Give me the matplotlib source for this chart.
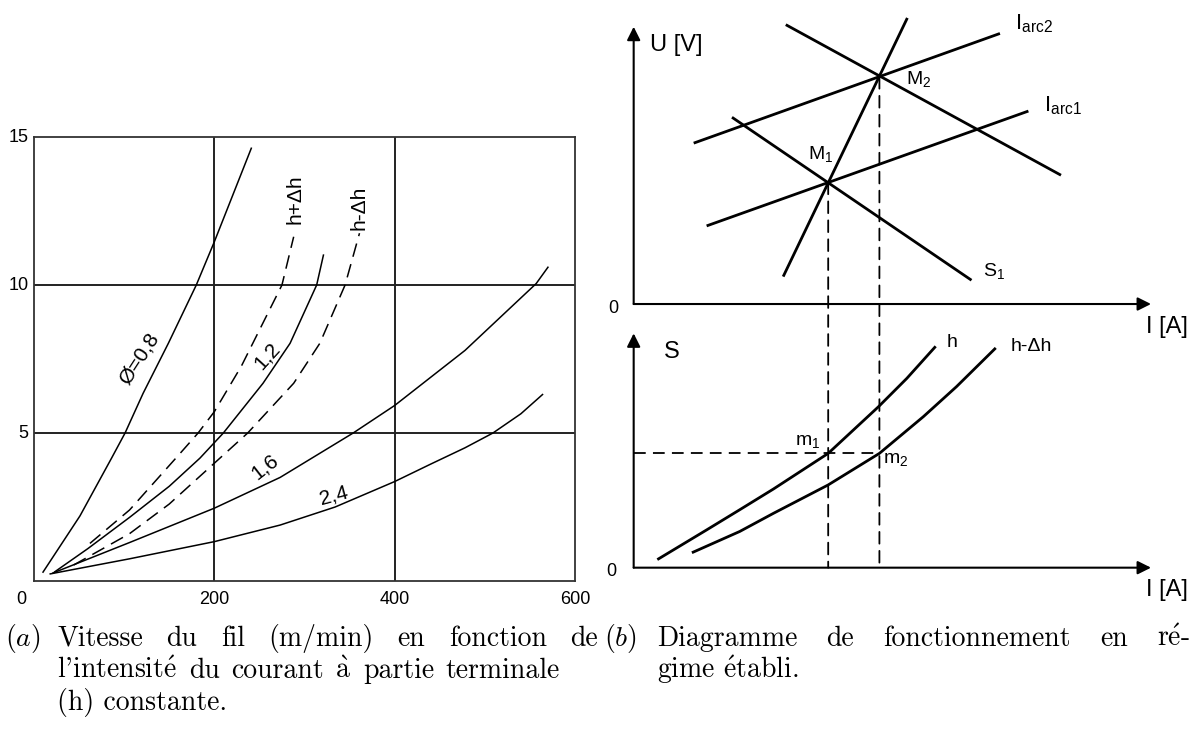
import numpy as np
import matplotlib.pyplot as plt
from matplotlib.patches import ConnectionPatch

plt.rcParams['font.family'] = ['Liberation Sans', 'DejaVu Sans']

# (a) wire speed (m/min) vs current (A)
i_08 = [10, 51, 86, 101, 121, 149, 180, 200, 241]
v_08 = [0.3, 2.2, 4.15, 5.0, 6.34, 8.03, 10.0, 11.46, 14.62]
i_12 = [23, 60, 106, 150, 184, 210, 254, 284, 313.5, 321]
v_12 = [0.31, 1.1, 2.15, 3.2, 4.15, 5.0, 6.68, 8.03, 10.0, 11.01]
i_hp = [62, 106, 162, 182, 200, 230, 275, 288]
v_hp = [1.27, 2.4, 4.31, 5.0, 5.72, 7.26, 10.0, 11.63]
i_hm = [44, 106, 150, 200, 237, 288, 317, 345, 361]
v_hm = [0.54, 1.6, 2.6, 3.98, 5.0, 6.68, 8.03, 10.0, 11.75]
i_16 = [21, 106, 200, 273, 354, 400, 478, 557, 570]
v_16 = [0.27, 1.3, 2.46, 3.5, 5.0, 5.93, 7.79, 10.05, 10.6]
i_24 = [18, 106, 200, 273, 334, 400, 440, 478, 509, 540, 564]
v_24 = [0.24, 0.75, 1.33, 1.89, 2.5, 3.36, 3.95, 4.5, 5.0, 5.65, 6.3]

x_ticks = [0, 200, 400, 600]
y_ticks = [5, 10, 15]

# (b) operating diagram, arbitrary units
iarc2_i, iarc2_u = [1.16, 7.08], [3.11, 5.23]
iarc1_i, iarc1_u = [1.41, 7.63], [1.51, 3.73]
s2_i, s2_u = [2.94, 8.26], [5.40, 2.49]
s1_i, s1_u = [1.90, 6.53], [3.61, 0.46]
src_i, src_u = [2.89, 5.29], [0.53, 5.53]
M1 = (3.76, 2.35)
M2 = (4.75, 4.39)
h_i = [0.48, 1.41, 2.05, 2.70, 3.76, 4.73, 5.28, 5.82]
h_s = [0.17, 0.73, 1.12, 1.52, 2.21, 3.11, 3.66, 4.26]
hm_i = [1.15, 2.05, 2.70, 3.76, 4.75, 5.60, 6.24, 6.98]
hm_s = [0.30, 0.70, 1.05, 1.60, 2.21, 2.92, 3.50, 4.23]
s_level = 2.21

fig = plt.figure(figsize=(11.97, 7.31), dpi=100)

# ---------- (a) ----------
ax = fig.add_axes([34/1197, 1 - 581/731, 541/1197, 444/731])
ax.set_xlim(0, 600)
ax.set_ylim(0, 15)
ax.set_xticks([200, 400])
ax.set_yticks([5, 10])
ax.tick_params(length=0, labelbottom=False, labelleft=False)
ax.grid(True, color='#222222', lw=1.4)
for s in ax.spines.values():
    s.set_linewidth(1.3)
    s.set_color('#333333')

for xs, ys in [(i_08, v_08), (i_12, v_12), (i_16, v_16), (i_24, v_24)]:
    ax.plot(xs, ys, color='k', lw=1.1)
for xs, ys in [(i_hp, v_hp), (i_hm, v_hm)]:
    ax.plot(xs, ys, color='k', lw=1.1, dashes=(9, 5))

for v in x_ticks:
    dx = -9 if v == 0 else 0
    ax.annotate(str(v), xy=(v, 0), xytext=(dx, -13), textcoords='offset points',
                ha='center', va='center', fontsize=13)
for v in y_ticks:
    ax.annotate(str(v), xy=(0, v), xytext=(-4, 0), textcoords='offset points',
                ha='right', va='center', fontsize=13)

lab = dict(ha='center', va='center', rotation_mode='anchor', fontsize=15)
ax.text(117, 7.5, 'Ø=0,8', rotation=57, **lab)
ax.text(259, 7.6, '1,2', rotation=48, **lab)
ax.text(256, 3.86, '1,6', rotation=38, **lab)
ax.text(333, 2.9, '2,4', rotation=15, **lab)
ax.text(290, 12.9, 'h+Δh', rotation=90, **lab)
ax.text(360, 12.6, 'h-Δh', rotation=90, **lab)

# ---------- (b) upper: U(I) ----------
up = fig.add_axes([600/1197, 1 - 320/731, 597/1197, 320/731])
up.set_xlim(-0.651, 10.889)
up.set_ylim(-0.309, 5.877)
up.axis('off')
arr = dict(arrowstyle='-|>', color='k', lw=1.5, mutation_scale=20, shrinkA=0, shrinkB=0)
up.annotate('', xy=(10, 0), xytext=(0, 0), arrowprops=arr)
up.annotate('', xy=(0, 5.36), xytext=(0, 0), arrowprops=arr)
for xs, ys in [(iarc2_i, iarc2_u), (iarc1_i, iarc1_u), (s2_i, s2_u), (s1_i, s1_u), (src_i, src_u)]:
    up.plot(xs, ys, color='k', lw=2.0, solid_capstyle='butt')

up.text(0.315, 5.01, 'U [V]', ha='left', va='center', fontsize=17)
up.text(-0.40, -0.08, '0', ha='center', va='center', fontsize=13)
up.text(10.31, -0.44, 'I [A]', ha='center', va='center', fontsize=17)
up.text(7.37, 5.41, 'I$_\\mathregular{arc2}$', ha='left', va='center', fontsize=16)
up.text(7.94, 3.83, 'I$_\\mathregular{arc1}$', ha='left', va='center', fontsize=16)
up.text(5.27, 4.33, 'M$_\\mathregular{2}$', ha='left', va='center', fontsize=14)
up.text(3.37, 2.88, 'M$_\\mathregular{1}$', ha='left', va='center', fontsize=14)
up.text(6.75, 0.62, 'S$_\\mathregular{1}$', ha='left', va='center', fontsize=14)

# ---------- (b) lower: S(I) ----------
lo = fig.add_axes([600/1197, 1 - 600/731, 597/1197, 275/731])
lo.set_xlim(-0.651, 10.889)
lo.set_ylim(-0.625, 4.692)
lo.axis('off')
lo.annotate('', xy=(10, 0), xytext=(0, 0), arrowprops=arr)
lo.annotate('', xy=(0, 4.53), xytext=(0, 0), arrowprops=arr)
lo.plot(h_i, h_s, color='k', lw=2.0)
lo.plot(hm_i, hm_s, color='k', lw=2.0)
lo.plot([0, M2[0]], [s_level, s_level], color='k', lw=1.3, dashes=(6.5, 4))

for m in (M1, M2):
    con = ConnectionPatch(xyA=m, coordsA=up.transData, xyB=(m[0], 0), coordsB=lo.transData,
                          color='k', lw=1.3, linestyle=(0, (6.5, 4)))
    fig.add_artist(con)

lo.text(0.74, 4.17, 'S', ha='center', va='center', fontsize=17)
lo.text(-0.43, -0.08, '0', ha='center', va='center', fontsize=13)
lo.text(10.31, -0.43, 'I [A]', ha='center', va='center', fontsize=17)
lo.text(6.04, 4.36, 'h', ha='left', va='center', fontsize=14)
lo.text(7.28, 4.27, 'h-Δh', ha='left', va='center', fontsize=14)
lo.text(3.12, 2.42, 'm$_\\mathregular{1}$', ha='left', va='center', fontsize=14)
lo.text(4.81, 2.08, 'm$_\\mathregular{2}$', ha='left', va='center', fontsize=14)

# ---------- captions (justified like the LaTeX source) ----------
E = r'$\mathrm{\acute{e}}$'
A = r'$\mathrm{\grave{a}}$'
cap = dict(fontsize=20, family='cmr10', math_fontfamily='cm', va='baseline', ha='left')
renderer = fig.canvas.get_renderer()


def caption_line(text, x0, y, x1=None):
    words = text.split(' ')
    if x1 is None:
        fig.text(x0 / 1197, 1 - y / 731, text, **cap)
        return
    texts = [fig.text(0, 1 - y / 731, w, **cap) for w in words]
    widths = [t.get_window_extent(renderer).width for t in texts]
    gap = (x1 - x0 - sum(widths)) / (len(words) - 1)
    x = x0
    for t, w in zip(texts, widths):
        t.set_x(x / 1197)
        x += w + gap


fig.text(5/1197, 1 - 646/731, r'$\mathit{(a)}$', fontsize=20, math_fontfamily='cm', va='baseline')
caption_line('Vitesse du fil (m/min) en fonction de', 57, 646, 598)
caption_line("l'intensit" + E + ' du courant ' + A + ' partie terminale', 57, 678, 560)
caption_line('(h) constante.', 57, 710)
fig.text(604/1197, 1 - 646/731, r'$\mathit{(b)}$', fontsize=20, math_fontfamily='cm', va='baseline')
caption_line('Diagramme de fonctionnement en r' + E + '-', 657, 646, 1190)
caption_line('gime ' + E + 'tabli.', 657, 678)

fig.savefig('out.png', dpi=100)
